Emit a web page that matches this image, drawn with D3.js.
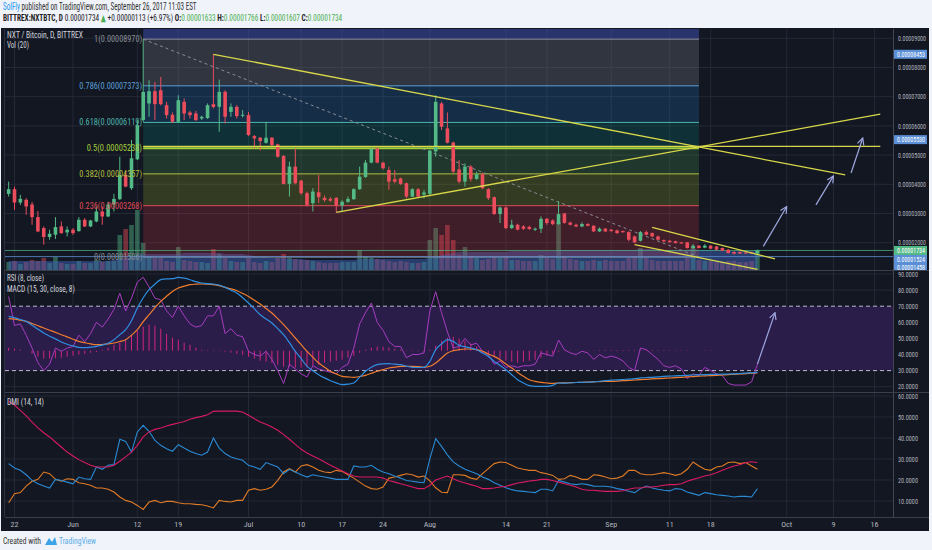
<!DOCTYPE html>
<html>
<head>
<meta charset="utf-8">
<script src="https://cdn.jsdelivr.net/npm/d3@7"></script>
<style>
  body { margin: 0; background: #f0f3fa; }
  svg { display: block; font-family: "Liberation Sans Narrow", "Roboto Condensed", "DejaVu Sans Condensed", "Roboto", sans-serif; }
</style>
</head>
<body>
<svg id="chart" width="932" height="550"></svg>
<script>
// NXT/BTC daily candles, prices in satoshi (1e-8 BTC), first candle 2017-05-21
var firstDay = "2017-05-21";

var opens = [3672,3833,3375,3468,3309,2876,2500,2195,2273,2557,2353,
  2444,2398,2785,2557,2728,3068,2898,3309,3490,4320,3867,4856,6198,6768,7188,7222,6710,6380,6140,6824,6460,6426,6255,6267,6745,6653,7166,6480,6653,6350,
  6369,5650,5595,5424,5595,5367,4968,4014,4605,4127,3696,3355,3728,3537,3500,3537,3273,3400,3490,3833,4250,4741,5230,4741,4490,4170,4200,4036,3580,3833,3650,
  3672,5127,6768,5913,5430,4510,4092,4605,4183,4343,3833,3560,2980,3205,2500,2614,2557,2540,2444,2478,2820,2762,2636,3000,2690,2614,2557,2640,2580,2387,2480,
  2444,2420,2400,2364,2216,2068,2364,2330,2216,2090,2068,2046,2011,2011,1818,1898,1830,1898,1875,1818,1761,1682,1682,1660,1660,1633];
var highs = [4092,3924,3640,3525,3400,3080,2555,2444,2876,2728,2557,
  2500,2876,2840,2785,3240,3240,3400,3672,4945,4434,5515,6198,8970,7563,7506,7676,6824,6460,7050,6937,6517,6517,6350,6770,8453,7586,7222,6770,6710,6540,
  6480,5686,5620,6140,5620,5390,5000,4775,5230,4150,3750,3867,4320,3620,3560,3560,3458,3580,3867,4605,4832,5250,5250,4770,4605,4490,4230,4060,3867,3870,3810,
  5180,7051,6824,6460,5460,4832,4718,4660,4434,4400,3867,3580,3240,3240,2785,2650,2600,2580,2520,2898,2840,2800,3410,3020,2720,2650,2700,2670,2600,2520,2500,
  2470,2450,2420,2390,2240,2400,2420,2350,2240,2110,2090,2070,2030,2030,1950,1920,1950,1920,1890,1840,1780,1700,1700,1680,1690,1766];
var lows = [3580,3126,3295,2955,2614,2360,1932,2100,2125,2300,2215,
  2270,2375,2535,2535,2700,2614,2876,3068,3468,3900,3809,4830,6140,6312,6198,6700,6255,6100,6100,6198,6255,6170,6200,6240,6600,5800,6085,6312,6255,6290,
  5650,5230,5160,5390,5310,4910,4000,3580,4000,3640,3240,3068,3355,3400,3400,3040,3068,3370,3470,3810,4220,4720,4720,4510,3810,4036,3980,3520,3560,3560,3520,
  3640,4945,5857,5400,4380,4036,3922,4092,4150,3833,3468,2955,2672,2467,2467,2420,2440,2440,2400,2330,2614,2600,2614,2650,2590,2530,2530,2560,2360,2370,2360,
  2370,2300,2340,2050,1990,2040,2250,2190,2080,2020,2000,1970,1960,1800,1790,1800,1810,1780,1740,1710,1630,1600,1610,1620,1615,1607];
var closes = [3833,3375,3502,3240,2876,2386,2195,2307,2535,2330,2444,
  2330,2785,2557,2762,3068,2898,3309,3500,4320,3922,4890,6027,7164,7188,6745,6745,6369,6140,6880,6426,6369,6198,6312,6710,6650,7166,6312,6653,6335,6380,
  5686,5572,5480,5595,5344,4945,4014,4605,4036,3696,3295,3751,3560,3458,3440,3273,3400,3500,3833,4263,4741,5208,4741,4550,4092,4092,4014,3580,3833,3580,3718,
  5150,6824,5970,5424,4434,4092,4605,4183,4343,3867,3526,2980,3205,2500,2614,2444,2478,2470,2480,2820,2672,2636,2980,2680,2614,2557,2640,2580,2387,2480,2387,
  2400,2330,2360,2102,2011,2364,2273,2216,2102,2046,2020,1989,1975,1818,1898,1818,1898,1795,1761,1727,1647,1625,1630,1640,1633,1734];

// volume (relative units) and its 20 day average
var volumes = [8,9,6,8,10,9,12,7,13,7,6,
  6,9,7,7,10,8,9,9,35,41,45,60,27,14,12,12,9,8,23,10,9,8,8,7,21,16,12,9,8,8,
  12,8,7,9,8,12,16,12,11,10,10,9,8,7,7,7,8,8,8,20,14,12,11,10,9,8,9,8,7,7,8,
  30,42,35,45,30,15,23,14,12,10,11,13,12,14,10,10,9,9,9,15,12,11,48,14,11,10,9,9,10,9,10,
  9,9,9,12,14,22,12,10,9,9,9,9,9,12,23,10,9,9,8,8,9,9,8,8,9,20];
var volumeMA = [9,9,9,9,9,9,9,9,9,9,9,
  9,9,9,9,9,9,9,10,11,12,13,15,16,16,16,16,16,16,16,17,17,17,17,17,17,17,16,16,16,16,
  15,14,13,13,12,12,12,11,11,11,10,10,10,10,10,10,10,10,10,11,11,11,11,11,11,11,11,11,11,11,11,
  12,13,15,16,17,18,18,18,18,18,18,18,18,18,19,19,19,19,19,19,19,19,20,20,20,20,20,20,20,20,20,
  20,20,20,20,20,21,21,21,20,20,20,20,20,20,21,20,20,20,20,19,19,19,19,19,19,20];

// RSI (8, close)
var rsiValues = [76,58,59,52,44,35,30,34,44,42,44,
  45,52,48,53,60,57,62,68,78,67,75,85,88,82,75,74,67,63,70,64,59,57,58,64,64,70,53,56,52,51,
  42,40,39,42,37,30,22,34,31,28,26,33,31,30,29,28,32,34,44,59,66,72,60,55,48,45,45,38,40,40,41,
  67,79,66,54,44,45,50,46,47,42,40,34,36,32,33,32,33,33,34,41,40,39,49,43,41,40,42,41,37,40,38,
  39,38,36,32,30,44,43,40,37,33,32,33,31,25,28,27,32,30,28,27,22,21,21,21,23,34];

// MACD (15, 30, close, 8), in satoshi
var macdLine = [343,330,312,293,255,215,177,145,118,87,65,
  48,33,30,35,43,55,75,110,160,210,300,427,530,610,665,710,718,720,733,725,710,690,677,670,667,655,633,605,577,530,
  477,420,360,318,277,220,160,80,-6,-80,-156,-200,-240,-272,-300,-322,-340,-335,-323,-265,-206,-165,-140,-132,-130,-135,-140,-155,-166,-168,-166,
  -106,10,67,110,93,53,40,27,10,-23,-57,-107,-147,-190,-240,-290,-323,-350,-357,-357,-357,-347,-323,-325,-322,-318,-317,-314,-312,-306,-300,
  -294,-292,-288,-284,-280,-272,-268,-266,-262,-257,-254,-251,-249,-246,-243,-241,-239,-237,-236,-235,-233,-231,-228,-225,-221,-217];
var signalLine = [320,315,305,293,272,250,227,205,183,160,138,
  115,93,80,68,60,62,68,77,92,110,155,210,290,360,430,493,545,593,627,645,660,665,667,665,660,650,633,618,600,573,
  543,505,467,422,377,320,260,195,127,60,-6,-65,-123,-165,-206,-232,-256,-262,-266,-258,-246,-226,-206,-190,-173,-164,-156,-156,-156,-160,-166,
  -156,-123,-73,-23,0,10,17,17,10,-6,-33,-57,-90,-133,-173,-217,-256,-290,-307,-317,-323,-327,-323,-322,-320,-318,-316,-313,-311,-309,-308,
  -307,-304,-300,-297,-293,-289,-286,-282,-279,-276,-273,-269,-266,-262,-259,-255,-252,-249,-246,-243,-240,-236,-233,-229,-226,-223];
var macdHist = [30,20,10,0,-30,-60,-80,-80,-75,-70,-60,
  -50,-40,-30,-20,-15,10,30,60,80,110,150,200,240,260,250,220,170,130,110,80,60,30,10,5,5,5,-10,-20,-30,-40,
  -60,-80,-100,-110,-120,-140,-160,-160,-170,-170,-160,-150,-140,-120,-110,-100,-90,-70,-50,-20,10,30,40,40,30,20,10,5,5,-5,-10,
  10,50,100,130,140,120,100,70,40,-20,-40,-60,-80,-100,-110,-120,-110,-100,-90,-70,-50,-30,-10,-5,-3,-3,0,3,3,5,6,
  6,7,6,7,6,7,6,7,6,5,5,4,4,4,3,3,3,3,2,2,2,2,2,2,2,3];

// DMI (14, 14)
var adxValues = [57.5,55.7,53.2,50.5,47.6,44.8,42.5,40.5,38.1,35.7,33.3,
  31.4,29.7,28.3,27,26.2,26.2,26.2,27,28.9,31,33.3,36.5,40.5,42.9,44.1,44.8,45.7,46.5,47.1,47.9,48.9,49.7,50.3,51.1,52.7,52.8,52.8,52.8,52.8,52.4,
  50.8,49.2,47.6,46.5,45.2,43.7,41.6,39.4,37,34.6,32.9,31.4,30.1,28.6,27,25.7,24.3,23,21.9,21.4,21.4,21.4,21.4,20.9,19.8,19,18.2,17.5,16.7,15.9,15.9,
  17.5,20,21,21.9,20.6,19.4,18.6,17.8,17,15.9,15.9,16.2,16.7,17,17.8,18.6,19,19.5,19.8,20.3,20.3,19.8,19,18.2,17.5,16.7,15.6,15.1,15.1,14.8,14.6,
  14.6,14.6,14.9,15.6,16.2,16.2,16.7,16.7,17,17.5,17.8,17.8,18.2,19.4,20.3,21.1,21.9,22.5,23.5,24.6,25.7,26.7,27.3,28.3,28.7,28.3];
var plusDI = [27.8,25.7,24.6,22.5,19.8,18.2,17.1,16.2,20.3,19.8,19,
  18.2,21.4,20.6,20.3,26.2,25.1,27,27.3,39.4,38.4,33.3,42.9,46,43.2,38.9,36.5,34.9,33.7,36.8,35.2,33.7,32.6,31.8,33.3,40,35.2,32.6,31,30.1,29.4,
  27,26.2,25.1,28.3,27.3,26.2,23,25.1,23.8,22.5,21.4,22.5,21.9,21.4,20.9,20.3,20.3,20.3,26.7,26.2,26.2,27,25.1,23.8,23,21.9,20.9,19.8,19.4,19,18.7,
  30.1,39.7,36,32,28.6,26.7,25.1,24.1,23,21.4,20.3,18.7,17.5,16.3,15.4,14.8,14.6,14.3,14,15.6,15.6,14.8,19.8,19,18.2,17.8,18.2,17.8,17.1,17,17,
  16.7,15.9,15.4,14.6,14,15.9,17.1,16.2,15.6,15.1,14.8,15.9,15.6,14.3,13.5,12.7,14,13.5,13,12.7,12.4,11.9,12.2,12.2,11.9,15.9];
var minusDI = [9.2,13.5,14,17.1,19.4,20.3,23.8,23,20.3,19.4,20.6,
  20.3,18.7,18.2,17.5,16.2,16.2,15.6,14.3,11.9,10.3,9.5,7.9,6,9.5,10.3,9.2,9.8,9.8,9.2,8.7,8.7,8.4,8.2,7.6,6.7,10.3,9.8,9.5,10.3,10.3,
  15.1,15.9,15.1,15.6,16.7,19.8,23.8,25.4,23.8,26.7,27.3,26.2,24.6,23.8,23.5,24.6,24.1,22.5,20.9,19,17.1,15.9,15.6,16.7,20.9,21.4,22.2,23,22.5,21.4,21.9,
  19.6,16.3,14.2,14,22.5,22.5,22.2,20.9,20.3,23,25.4,27.8,28.6,28.3,27,25.7,25.1,24.6,24.6,23.5,23,22.2,20.3,20.6,22.2,21.4,20.3,20.3,22.5,22.2,21.4,
  20.6,20.9,21.9,24.6,24.6,23,22.5,22.5,23,23.5,23,22.2,23,25.1,28.6,26.7,25.1,24.6,26.2,26.7,28.3,28.6,27.8,28.3,26.7,25.1];

// axes
var tickDates = ["2017-05-22","2017-06-01","2017-06-12","2017-06-19","2017-07-01","2017-07-10","2017-07-17","2017-07-24",
  "2017-08-01","2017-08-14","2017-08-21","2017-09-01","2017-09-11","2017-09-18","2017-10-01","2017-10-09","2017-10-16"];
var tickLabels = ["22","Jun","12","19","Jul","10","17","24","Aug","14","21","Sep","11","18","Oct","9","16"];
var priceTicks = [2000,3000,4000,5000,6000,7000,8000,9000];
var rsiTicks = [20,30,40,50,60,70,80,90];
var dmiTicks = [10,20,30,40,50,60];

// drawings
var fibLevels = [1, 0.786, 0.618, 0.5, 0.382, 0.236, 0];
var fibHigh = 8970, fibLow = 1506;
var fibStart = "2017-06-13", fibEnd = "2017-09-16";
var trendLines = [
  ["2017-06-25", 8453, "2017-10-11", 4321],
  ["2017-07-16", 3040, "2017-10-17", 6400],
  ["2017-06-13", 5300, "2017-10-17", 5300],
  ["2017-09-08", 2522, "2017-09-29", 1444],
  ["2017-09-05", 1932, "2017-09-26", 1090]
];
var priceArrows = [
  ["2017-09-27", 1874, "2017-10-01", 3239],
  ["2017-10-06", 3297, "2017-10-09", 4287],
  ["2017-10-12", 4389, "2017-10-14", 5584]
];
var rsiArrow = ["2017-09-26", 34, "2017-09-29", 66];
var lastPrice = 1734;
var markerPrices = [8453, 5530, 1524, 1458];

// ------------------------------------------------------------------
var plotL = 5, plotR = 893;
var mainTop = 29, mainBot = 270, rsiTop = 271, rsiBot = 392, dmiTop = 394, dmiBot = 517;
var bg = "#131722", gridColor = "#252937", axisText = "#b2b5be";
var upColor = "#53b987", downColor = "#eb4d5c";

var parseDay = d3.utcParse("%Y-%m-%d");
var dates = opens.map(function(d, i){ return d3.utcDay.offset(parseDay(firstDay), i); });

var svg = d3.select("#chart");

// squeeze texts horizontally into a width (the original uses a narrow font)
function fit(sel, w) {
  sel.each(function(){
    var n = this.getComputedTextLength();
    if (n > w) {
      var x0 = +this.getAttribute("x");
      this.setAttribute("transform", "translate(" + x0 + ",0) scale(" + (w / n) + ",1) translate(" + (-x0) + ",0)");
    }
  });
  return sel;
}

// x scale: one day is about 5.85px
var x = d3.scaleUtc()
  .domain([parseDay("2017-06-01"), parseDay("2017-10-01")])
  .range([73, 786.7]);
var y = d3.scaleLinear().domain([2000, 9000]).range([242.7, 38.3]);
var yVol = d3.scaleLinear().domain([0, 60]).range([mainBot, 210]);
var yRsi = d3.scaleLinear().domain([20, 90]).range([386.7, 274]);
var yMacd = d3.scaleLinear().domain([-400, 800]).range([390.7, 270.7]);
var yDmi = d3.scaleLinear().domain([10, 60]).range([501, 396]);

var fmt8 = function(v){ return (v / 1e8).toFixed(8); };

// dark chart background
svg.append("rect").attr("x", 1).attr("y", 28).attr("width", 928).attr("height", 503).attr("fill", bg);

// clip paths for the three panes
var defs = svg.append("defs");
[["clipMain", mainTop, mainBot], ["clipRsi", rsiTop, rsiBot], ["clipDmi", dmiTop, dmiBot]].forEach(function(c){
  defs.append("clipPath").attr("id", c[0]).append("rect")
    .attr("x", plotL).attr("y", c[1]).attr("width", plotR - plotL).attr("height", c[2] - c[1]);
});
defs.append("clipPath").attr("id", "clipAxis").append("rect")
  .attr("x", plotR).attr("y", mainTop).attr("width", 40).attr("height", mainBot - mainTop);
defs.append("marker").attr("id", "arrowHead").attr("viewBox", "0 0 10 10")
  .attr("refX", 9).attr("refY", 5).attr("markerWidth", 7).attr("markerHeight", 7).attr("orient", "auto")
  .append("path").attr("d", "M1,1 L9,5 L1,9").attr("fill", "none").attr("stroke", "#9fa8e0").attr("stroke-width", 1.4);

// vertical grid lines
svg.append("g").selectAll("line").data(tickDates).enter().append("line")
  .attr("x1", function(d){ return x(parseDay(d)); }).attr("x2", function(d){ return x(parseDay(d)); })
  .attr("y1", mainTop).attr("y2", dmiBot).attr("stroke", gridColor);

// horizontal grids
svg.append("g").selectAll("line").data(priceTicks).enter().append("line")
  .attr("x1", plotL).attr("x2", plotR).attr("y1", function(d){ return y(d); }).attr("y2", function(d){ return y(d); })
  .attr("stroke", gridColor);
svg.append("g").selectAll("line").data(rsiTicks.filter(function(d){ return d != 70 && d != 30; })).enter().append("line")
  .attr("x1", plotL).attr("x2", plotR).attr("y1", function(d){ return yRsi(d); }).attr("y2", function(d){ return yRsi(d); })
  .attr("stroke", gridColor);
svg.append("g").selectAll("line").data(dmiTicks).enter().append("line")
  .attr("x1", plotL).attr("x2", plotR).attr("y1", function(d){ return yDmi(d); }).attr("y2", function(d){ return yDmi(d); })
  .attr("stroke", gridColor);

// ---------------- main pane ----------------
var main = svg.append("g").attr("clip-path", "url(#clipMain)");

// volume bars
main.append("g").selectAll("rect").data(volumes).enter().append("rect")
  .attr("x", function(d, i){ return x(dates[i]) - 2.3; })
  .attr("width", 4.6)
  .attr("y", function(d){ return yVol(d); })
  .attr("height", function(d){ return mainBot - yVol(d); })
  .attr("fill", function(d, i){ return closes[i] >= opens[i] ? upColor : downColor; })
  .attr("opacity", 0.45);

// volume average area
var volArea = d3.area()
  .x(function(d, i){ return x(dates[i]); })
  .y0(mainBot)
  .y1(function(d){ return yVol(d); });
main.append("path").datum(volumeMA).attr("d", volArea)
  .attr("fill", "#3d63b8").attr("opacity", 0.5);

// fibonacci retracement
var fibX0 = x(parseDay(fibStart)), fibX1 = x(parseDay(fibEnd));
var fibPrice = function(l){ return fibLow + l * (fibHigh - fibLow); };
var fibFills = ["rgba(120,123,134,0.3)", "rgba(33,150,243,0.18)", "rgba(0,150,136,0.2)",
  "rgba(76,175,80,0.22)", "rgba(170,190,40,0.22)", "rgba(242,54,69,0.2)"];
var fibColors = ["#8a8d96", "#5a9fd8", "#4db6ac", "#a5cf3c", "#b4bf3e", "#e04a58", "#8a8d96"];
main.append("rect").attr("x", fibX0).attr("y", mainTop).attr("width", fibX1 - fibX0)
  .attr("height", y(fibHigh) - mainTop).attr("fill", "rgba(63,81,181,0.5)");
fibLevels.slice(0, -1).forEach(function(l, i){
  var top = y(fibPrice(l)), bot = y(fibPrice(fibLevels[i + 1]));
  main.append("rect").attr("x", fibX0).attr("y", top).attr("width", fibX1 - fibX0)
    .attr("height", bot - top).attr("fill", fibFills[i]);
});
fibLevels.forEach(function(l, i){
  main.append("line").attr("x1", fibX0).attr("x2", fibX1)
    .attr("y1", y(fibPrice(l))).attr("y2", y(fibPrice(l)))
    .attr("stroke", fibColors[i]).attr("stroke-width", l == 0.5 ? 2 : 1);
});

// last price and marker lines
main.append("line").attr("x1", plotL).attr("x2", plotR).attr("y1", y(lastPrice)).attr("y2", y(lastPrice))
  .attr("stroke", upColor).attr("stroke-opacity", 0.7);
main.append("line").attr("x1", plotL).attr("x2", plotR).attr("y1", y(1524)).attr("y2", y(1524))
  .attr("stroke", "#5b8fd6").attr("stroke-opacity", 0.8);

// fib trend (dashed)
main.append("line")
  .attr("x1", fibX0).attr("y1", y(fibHigh)).attr("x2", fibX1).attr("y2", y(fibLow))
  .attr("stroke", "#8a8d96").attr("stroke-dasharray", "3,3").attr("stroke-width", 1);

// candles
var candles = main.append("g").selectAll("g").data(opens).enter().append("g");
candles.append("line")
  .attr("x1", function(d, i){ return x(dates[i]); }).attr("x2", function(d, i){ return x(dates[i]); })
  .attr("y1", function(d, i){ return y(highs[i]); }).attr("y2", function(d, i){ return y(lows[i]); })
  .attr("stroke", function(d, i){ return closes[i] >= opens[i] ? upColor : downColor; });
candles.append("rect")
  .attr("x", function(d, i){ return x(dates[i]) - 1.8; })
  .attr("width", 3.6)
  .attr("y", function(d, i){ return y(Math.max(opens[i], closes[i])); })
  .attr("height", function(d, i){ return Math.max(1, Math.abs(y(opens[i]) - y(closes[i]))); })
  .attr("fill", function(d, i){ return closes[i] >= opens[i] ? upColor : downColor; });

// yellow trend lines
main.append("g").selectAll("line").data(trendLines).enter().append("line")
  .attr("x1", function(d){ return x(parseDay(d[0])); }).attr("y1", function(d){ return y(d[1]); })
  .attr("x2", function(d){ return x(parseDay(d[2])); }).attr("y2", function(d){ return y(d[3]); })
  .attr("stroke", "#d8d84a").attr("stroke-width", 1.3);

// arrows
main.append("g").selectAll("line").data(priceArrows).enter().append("line")
  .attr("x1", function(d){ return x(parseDay(d[0])); }).attr("y1", function(d){ return y(d[1]); })
  .attr("x2", function(d){ return x(parseDay(d[2])); }).attr("y2", function(d){ return y(d[3]); })
  .attr("stroke", "#9fa8e0").attr("stroke-width", 1.2).attr("marker-end", "url(#arrowHead)");

// fib labels (right edge at the start of the retracement)
fibLevels.forEach(function(l, i){
  var label = l + "(" + fmt8(fibPrice(l)) + ")";
  var w = label.length * 3.7;
  fit(svg.append("text").attr("x", fibX0 - 1 - w).attr("y", y(fibPrice(l))).attr("dy", "0.35em")
    .attr("font-size", 8.5).attr("fill", fibColors[i]).text(label), w);
});

// ---------------- RSI / MACD pane ----------------
var rsiG = svg.append("g").attr("clip-path", "url(#clipRsi)");
rsiG.append("rect").attr("x", plotL).attr("width", plotR - plotL)
  .attr("y", yRsi(70)).attr("height", yRsi(30) - yRsi(70)).attr("fill", "#2a1d4a");
[70, 30].forEach(function(v){
  rsiG.append("line").attr("x1", plotL).attr("x2", plotR).attr("y1", yRsi(v)).attr("y2", yRsi(v))
    .attr("stroke", "#b9b9cc").attr("stroke-dasharray", "4,3");
});
rsiG.append("g").selectAll("line").data(macdHist).enter().append("line")
  .attr("x1", function(d, i){ return x(dates[i]); }).attr("x2", function(d, i){ return x(dates[i]); })
  .attr("y1", yMacd(0)).attr("y2", function(d){ return yMacd(d); })
  .attr("stroke", "#d0267a").attr("stroke-width", 1);
var rsiLine = d3.line().x(function(d, i){ return x(dates[i]); }).y(function(d){ return yRsi(d); });
rsiG.append("path").datum(rsiValues).attr("d", rsiLine).attr("fill", "none").attr("stroke", "#a73cc0").attr("stroke-width", 1);
var macdPath = d3.line().x(function(d, i){ return x(dates[i]); }).y(function(d){ return yMacd(d); }).curve(d3.curveMonotoneX);
rsiG.append("path").datum(signalLine).attr("d", macdPath).attr("fill", "none").attr("stroke", "#ef7d2f").attr("stroke-width", 1.2);
rsiG.append("path").datum(macdLine).attr("d", macdPath).attr("fill", "none").attr("stroke", "#2f8ee0").attr("stroke-width", 1.2);
rsiG.append("line")
  .attr("x1", x(parseDay(rsiArrow[0]))).attr("y1", yRsi(rsiArrow[1]))
  .attr("x2", x(parseDay(rsiArrow[2]))).attr("y2", yRsi(rsiArrow[3]))
  .attr("stroke", "#9fa8e0").attr("stroke-width", 1.2).attr("marker-end", "url(#arrowHead)");

// ---------------- DMI pane ----------------
var dmiG = svg.append("g").attr("clip-path", "url(#clipDmi)");
var dmiLine = d3.line().x(function(d, i){ return x(dates[i]); }).y(function(d){ return yDmi(d); });
[[minusDI, "#e07b26"], [plusDI, "#2a8ad4"], [adxValues, "#d81b60"]].forEach(function(s){
  dmiG.append("path").datum(s[0]).attr("d", dmiLine).attr("fill", "none").attr("stroke", s[1]).attr("stroke-width", 1.1);
});

// ---------------- frame, separators, axes ----------------
svg.append("line").attr("x1", plotR + 0.5).attr("x2", plotR + 0.5).attr("y1", mainTop).attr("y2", dmiBot).attr("stroke", "#434651");
[mainBot + 0.5, dmiTop - 1.5, dmiBot + 0.5].forEach(function(v){
  svg.append("line").attr("x1", plotL).attr("x2", 929).attr("y1", v).attr("y2", v).attr("stroke", "#3a3e4a");
});
svg.append("line").attr("x1", plotL - 0.5).attr("x2", plotL - 0.5).attr("y1", mainTop).attr("y2", dmiBot).attr("stroke", "#2e3240");

// price axis labels
fit(svg.append("g").selectAll("text").data(priceTicks).enter().append("text")
  .attr("x", 898).attr("y", function(d){ return y(d); }).attr("dy", "0.35em")
  .attr("font-size", 8).attr("fill", axisText).text(fmt8), 28);
fit(svg.append("g").selectAll("text").data(rsiTicks).enter().append("text")
  .attr("x", 898).attr("y", function(d){ return yRsi(d); }).attr("dy", "0.35em")
  .attr("font-size", 8).attr("fill", axisText).text(function(d){ return d.toFixed(4); }), 20);
fit(svg.append("g").selectAll("text").data(dmiTicks).enter().append("text")
  .attr("x", 898).attr("y", function(d){ return yDmi(d); }).attr("dy", "0.35em")
  .attr("font-size", 8).attr("fill", axisText).text(function(d){ return d.toFixed(4); }), 20);

// coloured price markers on the axis; crowded ones are pushed down like the platform does
var marks = markerPrices.concat([lastPrice])
  .map(function(p){ return { p: p, y: y(p), col: p == lastPrice ? upColor : "#5b8fd6" }; })
  .sort(function(a, b){ return a.y - b.y; });
marks.forEach(function(m, i){
  if (i > 0 && m.y < marks[i - 1].y + 8.5) m.y = marks[i - 1].y + 8.5;
});
var markG = svg.append("g").attr("clip-path", "url(#clipAxis)");
marks.slice().reverse().forEach(function(m){
  markG.append("rect").attr("x", plotR + 1).attr("y", m.y - 4.5).attr("width", 33).attr("height", 9).attr("fill", m.col);
  fit(markG.append("text").attr("x", 897).attr("y", m.y).attr("dy", "0.35em").attr("font-size", 7.5)
    .attr("fill", "#ffffff").text(fmt8(m.p)), 28);
});

// time axis labels
svg.append("g").selectAll("text").data(tickDates).enter().append("text")
  .attr("x", function(d){ return x(parseDay(d)); }).attr("y", 527)
  .attr("text-anchor", "middle").attr("font-size", 8).attr("fill", axisText)
  .text(function(d, i){ return tickLabels[i]; });

// pane titles
var paneText = [["NXT / Bitcoin, D, BITTREX", 38, 76], ["Vol (20)", 48, 22], ["RSI (8, close)", 281, 37],
  ["MACD (15, 30, close, 8)", 292, 68], ["DMI (14, 14)", 405, 37]];
paneText.forEach(function(t){
  fit(svg.append("text").attr("x", 7).attr("y", t[1]).attr("font-size", 9).attr("fill", "#d1d4dc").text(t[0]), t[2]);
});

// ---------------- header and footer ----------------
var h1 = svg.append("text").attr("x", 3).attr("y", 10).attr("font-size", 10).attr("fill", "#333");
h1.append("tspan").attr("fill", "#2196f3").text("SolFly");
h1.append("tspan").text(" published on TradingView.com, September 26, 2017 11:03 EST");
fit(h1, 194);

var h2 = svg.append("text").attr("x", 3).attr("y", 21).attr("font-size", 9.5).attr("fill", "#222");
h2.append("tspan").attr("font-weight", "bold").text("BITTREX:NXTBTC, D ");
h2.append("tspan").text("0.00001734 ");
h2.append("tspan").attr("fill", "#4caf50").text("▲");
h2.append("tspan").text(" +0.00000113 (+6.97%) ");
[["O:", "0.00001633"], ["H:", "0.00001766"], ["L:", "0.00001607"], ["C:", "0.00001734"]].forEach(function(p){
  h2.append("tspan").attr("font-weight", "bold").text(" " + p[0]);
  h2.append("tspan").attr("fill", "#4caf50").text(p[1]);
});
fit(h2, 340);

fit(svg.append("text").attr("x", 3).attr("y", 544).attr("font-size", 9).attr("fill", "#333").text("Created with"), 38);
svg.append("path").attr("d", "M45,545 L49,538 L52,542 L55,537 L57,545 Z").attr("fill", "#3ba3e6");
fit(svg.append("text").attr("x", 59).attr("y", 544).attr("font-size", 9).attr("fill", "#5aace6").text("TradingView"), 37);
</script>
</body>
</html>
